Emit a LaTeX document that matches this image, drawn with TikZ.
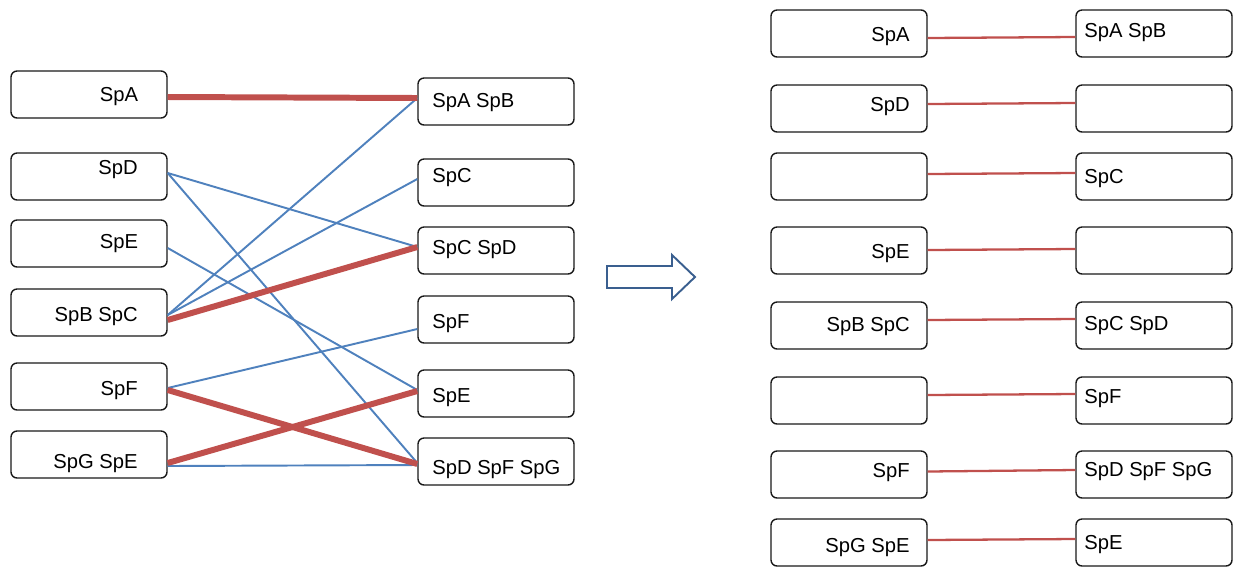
\documentclass[tikz,border=0pt]{standalone}
\usepackage{fontspec}
\setmainfont{Liberation Sans}
\usetikzlibrary{positioning}
\definecolor{linkred}{HTML}{C0504D}
\definecolor{linkblue}{HTML}{4F81BD}
\definecolor{arrowblue}{HTML}{3A5F8F}
\tikzset{spbox/.style={rectangle,rounded corners=0.12cm,draw=black!90,fill=white,
line width=0.8pt,minimum height=0.94cm, minimum width=3.12cm,inner sep=0pt}}
\tikzset{splabel/.style={inner sep=0pt,font=\fontsize{11.5}{13}\selectfont}}
\tikzset{fatred/.style={draw=linkred,line width=3.4pt}}
\tikzset{thinblue/.style={draw=linkblue,line width=1.1pt}}
\tikzset{thinred/.style={draw=linkred,line width=1.3pt}}

\begin{document}
\begin{tikzpicture}[x=0.02cm,y=-0.02cm]
    \useasboundingbox (0,0) rectangle (1234,566);

    % left column
    \node[spbox] (lA) at (89,94.5) {};
    \node[spbox] (lD) at (89,176.5) {};
    \node[spbox] (lE) at (89,243.5) {};
    \node[spbox] (lBC) at (89,312.5) {};
    \node[spbox] (lF) at (89,386.5) {};
    \node[spbox] (lGE) at (89,454.5) {};

    \node[splabel, anchor=base east] (lAt) at (138.5,101) {SpA};
    \node[splabel, anchor=base east] (lDt) at (138,174) {SpD};
    \node[splabel, anchor=base east] (lEt) at (138.5,248) {SpE};
    \node[splabel, anchor=base east] (lBCt) at (138,321) {SpB SpC};
    \node[splabel, anchor=base east] (lFt) at (138,395) {SpF};
    \node[splabel, anchor=base east] (lGEt) at (138,468) {SpG SpE};

    % middle column
    \node[spbox] (mAB) at (496,101.5) {};
    \node[spbox] (mC) at (496,182.5) {};
    \node[spbox] (mCD) at (496,250.5) {};
    \node[spbox] (mF) at (496,319.5) {};
    \node[spbox] (mE) at (496,393.5) {};
    \node[spbox] (mDFG) at (496,461.5) {};

    \node[splabel, anchor=base west] (mABt) at (432,107) {SpA SpB};
    \node[splabel, anchor=base west] (mCt) at (432,182) {SpC};
    \node[splabel, anchor=base west] (mCDt) at (432,254) {SpC SpD};
    \node[splabel, anchor=base west] (mFt) at (432,328) {SpF};
    \node[splabel, anchor=base west] (mEt) at (432,402) {SpE};
    \node[splabel, anchor=base west] (mDFGt) at (432,474) {SpD SpF SpG};

    % links, blue first
    \draw[thinblue] ([shift={(0,-3.5)}]lD.east) -- ([shift={(0,-3.5)}]mCD.west);
    \draw[thinblue] ([shift={(0,-3.5)}]lD.east) -- ([shift={(0,1.5)}]mDFG.west);
    \draw[thinblue] ([shift={(0,4.5)}]lE.east) -- ([shift={(0,-3.5)}]mE.west);
    \draw[thinblue] ([shift={(0,2.5)}]lBC.east) -- ([shift={(0,-3.5)}]mAB.west);
    \draw[thinblue] ([shift={(0,2.5)}]lBC.east) -- ([shift={(0,-3.5)}]mC.west);
    \draw[thinblue] ([shift={(0,1.5)}]lF.east) -- ([shift={(0,9.5)}]mF.west);
    \draw[thinblue] ([shift={(0,11.5)}]lGE.east) -- ([shift={(0,3.5)}]mDFG.west);

    \draw[fatred] ([shift={(0,2.5)}]lA.east) -- ([shift={(0,-3.5)}]mAB.west);
    \draw[fatred] ([shift={(0,7.5)}]lBC.east) -- ([shift={(0,-3.5)}]mCD.west);
    \draw[fatred] ([shift={(0,3.5)}]lF.east) -- ([shift={(0,2.5)}]mDFG.west);
    \draw[fatred] ([shift={(0,8.5)}]lGE.east) -- ([shift={(0,-2.5)}]mE.west);

    % hollow arrow
    \draw[arrowblue, line width=1.1pt, line join=miter]
        (607,266) -- (672,266) -- (672,255) -- (695,277) -- (672,299)
        -- (672,288) -- (607,288) -- cycle;

    % right panel, left column
    \node[spbox] (rA) at (849,33.5) {};
    \node[spbox] (rD) at (849,108.5) {};
    \node[spbox] (rX1) at (849,176.5) {};
    \node[spbox] (rE) at (849,250.5) {};
    \node[spbox] (rBC) at (849,325.5) {};
    \node[spbox] (rX2) at (849,400.5) {};
    \node[spbox] (rF) at (849,474.5) {};
    \node[spbox] (rGE) at (849,542.5) {};

    \node[splabel, anchor=base east] (rAt) at (910,41) {SpA};
    \node[splabel, anchor=base east] (rDt) at (910,111) {SpD};
    \node[splabel, anchor=base east] (rEt) at (910,258) {SpE};
    \node[splabel, anchor=base east] (rBCt) at (910,331) {SpB SpC};
    \node[splabel, anchor=base east] (rFt) at (910,477) {SpF};
    \node[splabel, anchor=base east] (rGEt) at (910,552) {SpG SpE};

    % right panel, right column
    \node[spbox] (sAB) at (1154,33.5) {};
    \node[spbox] (sY1) at (1154,108.5) {};
    \node[spbox] (sC) at (1154,176.5) {};
    \node[spbox] (sY2) at (1154,250.5) {};
    \node[spbox] (sCD) at (1154,325.5) {};
    \node[spbox] (sF) at (1154,400.5) {};
    \node[spbox] (sDFG) at (1154,474.5) {};
    \node[spbox] (sE) at (1154,542.5) {};

    \node[splabel, anchor=base west] (sABt) at (1084,37) {SpA SpB};
    \node[splabel, anchor=base west] (sCt) at (1084,183) {SpC};
    \node[splabel, anchor=base west] (sCDt) at (1084,330) {SpC SpD};
    \node[splabel, anchor=base west] (sFt) at (1084,403) {SpF};
    \node[splabel, anchor=base west] (sDFGt) at (1084,476) {SpD SpF SpG};
    \node[splabel, anchor=base west] (sEt) at (1084,549) {SpE};

    \draw[thinred] ([shift={(0,4.5)}]rA.east) -- ([shift={(0,3.5)}]sAB.west);
    \draw[thinred] ([shift={(0,-4.5)}]rD.east) -- ([shift={(0,-5.5)}]sY1.west);
    \draw[thinred] ([shift={(0,-2.5)}]rX1.east) -- ([shift={(0,-3.5)}]sC.west);
    \draw[thinred] ([shift={(0,-0.5)}]rE.east) -- ([shift={(0,-1.5)}]sY2.west);
    \draw[thinred] ([shift={(0,-5.5)}]rBC.east) -- ([shift={(0,-6.5)}]sCD.west);
    \draw[thinred] ([shift={(0,-5.5)}]rX2.east) -- ([shift={(0,-6.5)}]sF.west);
    \draw[thinred] ([shift={(0,-3)}]rF.east) -- ([shift={(0,-4.5)}]sDFG.west);
    \draw[thinred] ([shift={(0,-2.5)}]rGE.east) -- ([shift={(0,-3.5)}]sE.west);

\end{tikzpicture}
\end{document}
